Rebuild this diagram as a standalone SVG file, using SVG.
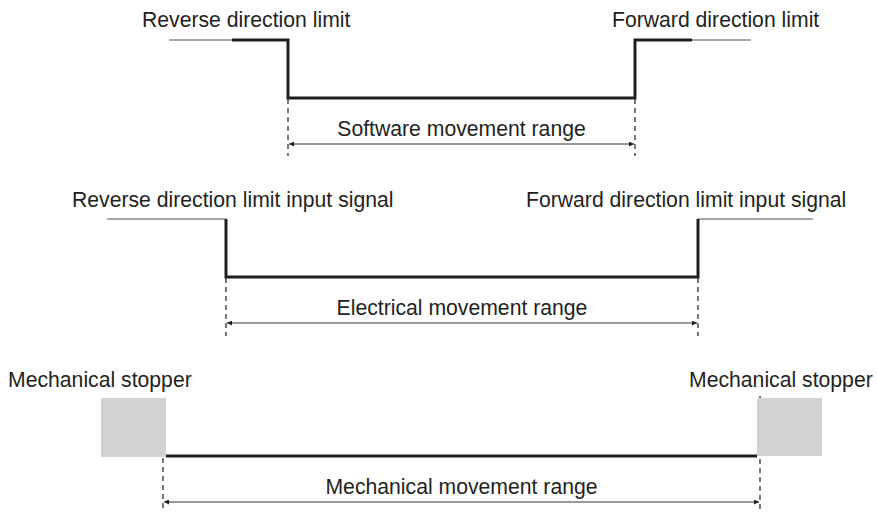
<svg xmlns="http://www.w3.org/2000/svg" width="877" height="512" viewBox="0 0 877 512">
<style>
text{font-family:"Liberation Sans",Arial,sans-serif;font-size:21.2px;fill:#231f20}
.thin{stroke:#8a8a8a;stroke-width:1.6;fill:none}
.thick{stroke:#231f20;stroke-width:3;fill:none;stroke-linejoin:miter}
.dash{stroke:#231f20;stroke-width:1.2;stroke-dasharray:5,4;fill:none}
.dim{stroke:#777;stroke-width:1.4;fill:none;marker-start:url(#ah);marker-end:url(#ah)}
.stop{fill:#d1d2d4}
</style>
<defs>
<marker id="ah" viewBox="0 0 10 10" refX="10" refY="5" markerWidth="8" markerHeight="5" markerUnits="userSpaceOnUse" orient="auto-start-reverse">
<path d="M0,0 L10,5 L0,10 Z" fill="#231f20"/>
</marker>
</defs>
<g id="software">
<text x="142" y="27">Reverse direction limit</text>
<text x="612" y="27">Forward direction limit</text>
<line class="thin" x1="169" y1="40" x2="232" y2="40"/>
<line class="thin" x1="692" y1="40" x2="751" y2="40"/>
<path class="thick" d="M232,40 H288 V98 H635 V40 H692"/>
<text x="461.5" y="136" text-anchor="middle">Software movement range</text>
</g>
<g id="electrical">
<text x="72" y="207">Reverse direction limit input signal</text>
<text x="526" y="207">Forward direction limit input signal</text>
<line class="thin" x1="107" y1="219" x2="226" y2="219"/>
<line class="thin" x1="698" y1="219" x2="813" y2="219"/>
<path class="thick" d="M226,219 V277 H698 V219"/>
<text x="462" y="315" text-anchor="middle">Electrical movement range</text>
</g>
<g id="mechanical">
<text x="8" y="387">Mechanical stopper</text>
<text x="689" y="387">Mechanical stopper</text>
<line class="dash" x1="760" y1="396" x2="760" y2="512"/>
<rect id="stopper-left" class="stop" x="101" y="398" width="65" height="59"/>
<rect id="stopper-right" class="stop" x="757" y="398" width="65" height="58"/>
<line class="thick" x1="166" y1="456" x2="757" y2="456"/>
<text x="461.5" y="494" text-anchor="middle">Mechanical movement range</text>
</g>
<g id="connectors">
<line class="dash" x1="288" y1="99" x2="288" y2="156"/>
<line class="dash" x1="635" y1="99" x2="635" y2="156"/>
<line class="dash" x1="226" y1="278" x2="226" y2="336"/>
<line class="dash" x1="698" y1="278" x2="698" y2="336"/>
<line class="dash" x1="163" y1="458" x2="163" y2="512"/>
<line class="dim" x1="289" y1="144" x2="634" y2="144"/>
<line class="dim" x1="227" y1="323" x2="697" y2="323"/>
<line class="dim" x1="164" y1="502" x2="759" y2="502"/>
</g>
</svg>
